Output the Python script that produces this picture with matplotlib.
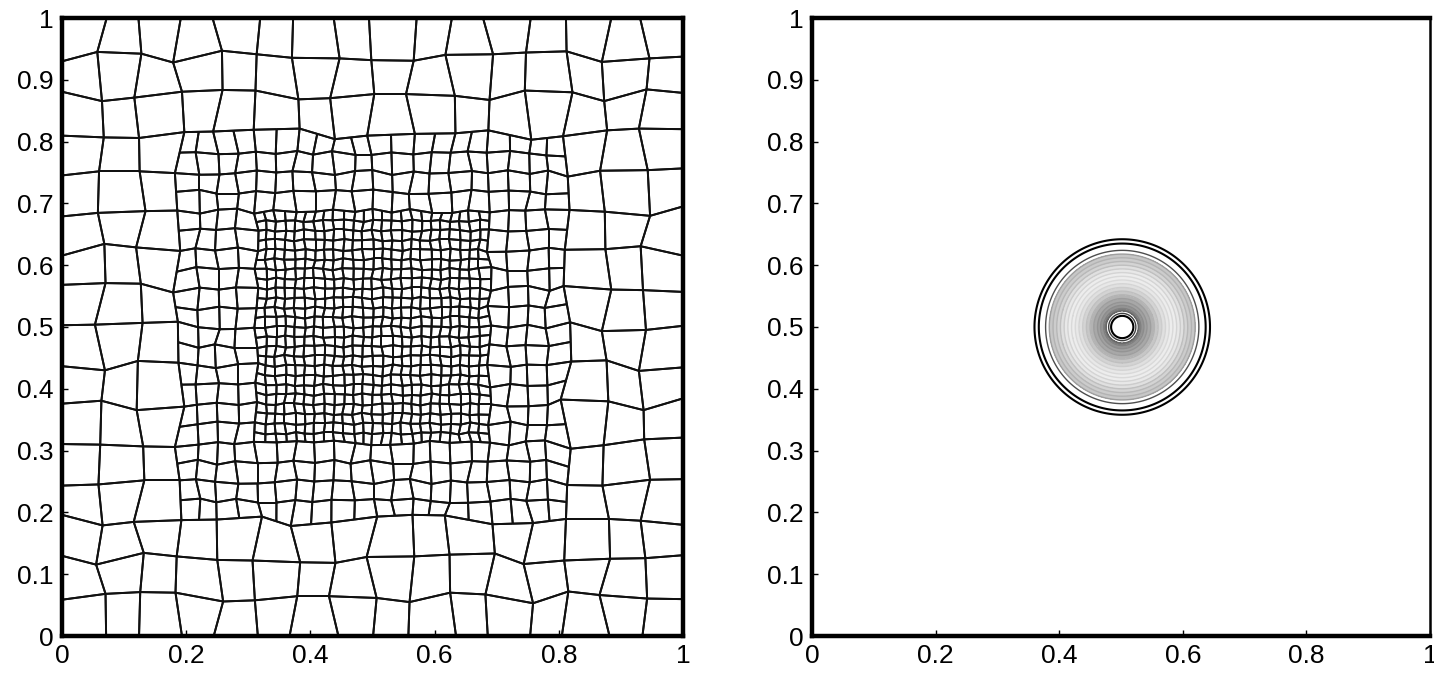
import numpy as np
import matplotlib
matplotlib.use("Agg")
import matplotlib.pyplot as plt
from matplotlib.collections import LineCollection

# ---------------- data ----------------
# mesh: finest lattice is 1/64; coarse = 4 lattice steps, medium = 2, fine = 1
N_FINE = 64
MEDIUM_ZONE = [12, 52]      # lattice indices (0.1875 .. 0.8125)
FINE_ZONE = [20, 44]        # lattice indices (0.3125 .. 0.6875)
AMP_COARSE = 0.0095
AMP_MEDIUM = 0.004
AMP_FINE = 0.002
# hand-typed node wiggles (read as typical distortion of the mesh)
JIT_X = [0.6, -0.9, 0.2, 0.8, -0.4, -0.7, 1.0, -0.1, 0.5, -1.0, 0.3, 0.9, -0.6, 0.0,
         -0.3, 0.7, -0.8, 0.4, -0.2, 1.0, -0.5, 0.1, 0.8, -0.9, 0.3, -0.6, 0.6, -0.1, 0.9]
JIT_Y = [-0.7, 0.4, 0.9, -0.3, 0.1, -1.0, 0.6, 0.8, -0.5, 0.2, -0.8, 0.5, 1.0, -0.2,
         -0.6, 0.3, 0.7, -0.9, 0.0, 0.6, -0.4, 0.9, -0.7, 0.2, -0.1, 0.8, -1.0, 0.4, -0.3]

# contour rings of the right panel
RING_CENTER = (0.502, 0.5)
RING_R = [0.142, 0.135, 0.124, 0.118, 0.112, 0.106, 0.100, 0.094, 0.088, 0.082, 0.076,
          0.070, 0.064, 0.058, 0.052, 0.046, 0.040, 0.035, 0.030, 0.026, 0.022, 0.018]
RING_GRAY = [0.0, 0.0, 0.3, 0.62, 0.7, 0.72, 0.75, 0.8, 0.83, 0.85, 0.85,
             0.83, 0.8, 0.75, 0.7, 0.62, 0.58, 0.55, 0.5, 0.4, 0.25, 0.0]

X_TICKS = [0, 0.2, 0.4, 0.6, 0.8, 1]
X_LABELS = ["0", "0.2", "0.4", "0.6", "0.8", "1"]
Y_TICKS = [0, 0.1, 0.2, 0.3, 0.4, 0.5, 0.6, 0.7, 0.8, 0.9, 1]
Y_LABELS = ["0", "0.1", "0.2", "0.3", "0.4", "0.5", "0.6", "0.7", "0.8", "0.9", "1"]

# ---------------- mesh construction ----------------
M0, M1 = MEDIUM_ZONE
F0, F1 = FINE_ZONE
n = N_FINE
P = np.full((n + 1, n + 1, 2), np.nan)


def exists(i, j):
    if i % 4 == 0 and j % 4 == 0:
        return True
    if i % 2 == 0 and j % 2 == 0 and M0 <= i <= M1 and M0 <= j <= M1:
        return True
    if F0 <= i <= F1 and F0 <= j <= F1:
        return True
    return False


def amp(i, j):
    if F0 < i < F1 and F0 < j < F1:
        return AMP_FINE
    if (F0 <= i <= F1 and F0 <= j <= F1) or (M0 < i < M1 and M0 < j < M1):
        return AMP_MEDIUM
    return AMP_COARSE


def hanging(i, j):
    onM = (M0 <= i <= M1 and M0 <= j <= M1) and (i in (M0, M1) or j in (M0, M1))
    if onM and not (i % 4 == 0 and j % 4 == 0):
        return "M"
    onF = (F0 <= i <= F1 and F0 <= j <= F1) and (i in (F0, F1) or j in (F0, F1))
    if onF and not (i % 2 == 0 and j % 2 == 0):
        return "F"
    return None


L = len(JIT_X)
for i in range(n + 1):
    for j in range(n + 1):
        if not exists(i, j) or hanging(i, j):
            continue
        a = amp(i, j)
        dx = a * JIT_X[(7 * i + 13 * j) % L]
        dy = a * JIT_Y[(11 * i + 5 * j) % L]
        if i in (0, n):
            dx = 0.0
        if j in (0, n):
            dy = 0.0
        P[i, j] = [i / n + dx, j / n + dy]

for i in range(n + 1):
    for j in range(n + 1):
        if not exists(i, j):
            continue
        h = hanging(i, j)
        if h is None:
            continue
        s = 2 if h == "M" else 1
        if (h == "M" and i in (M0, M1)) or (h == "F" and i in (F0, F1)):
            P[i, j] = 0.5 * (P[i, j - s] + P[i, j + s])
        else:
            P[i, j] = 0.5 * (P[i - s, j] + P[i + s, j])

segs = []


def add_cell(i, j, s):
    a, b, c, d = P[i, j], P[i + s, j], P[i + s, j + s], P[i, j + s]
    segs.extend([[a, b], [b, c], [c, d], [d, a]])


for I in range(0, n, 4):
    for J in range(0, n, 4):
        if M0 <= I and I + 4 <= M1 and M0 <= J and J + 4 <= M1:
            continue
        add_cell(I, J, 4)
for I in range(M0, M1, 2):
    for J in range(M0, M1, 2):
        if F0 <= I and I + 2 <= F1 and F0 <= J and J + 2 <= F1:
            continue
        add_cell(I, J, 2)
for I in range(F0, F1):
    for J in range(F0, F1):
        add_cell(I, J, 1)

# ---------------- figure ----------------
plt.rcParams["font.family"] = ["Liberation Sans", "DejaVu Sans"]
fig = plt.figure(figsize=(14.34, 6.78), dpi=100)
axL = fig.add_axes([62 / 1434, 42 / 678, 621 / 1434, 618 / 678])
axR = fig.add_axes([812 / 1434, 42 / 678, 618 / 1434, 618 / 678])

axL.add_collection(LineCollection(segs, colors="#111111", linewidths=1.4))

# rings
g = np.linspace(0.3, 0.7, 801)
X, Y = np.meshgrid(g, g)
R = np.hypot(X - RING_CENTER[0], Y - RING_CENTER[1])
shade_levels = sorted(RING_R[3:-2])
shade_cols = [str(min(1.0, RING_GRAY[RING_R.index(r)] + 0.08)) for r in shade_levels][:-1]
axR.contourf(X, Y, R, levels=shade_levels, colors=shade_cols)
order = np.argsort(RING_R)
lv = [RING_R[k] for k in order]
cols = [str(RING_GRAY[k]) for k in order]
lws = [1.5 if RING_GRAY[k] < 0.2 else 1.0 for k in order]
axR.contour(X, Y, R, levels=lv, colors=cols, linewidths=lws)

for ax in (axL, axR):
    ax.set_xlim(0, 1)
    ax.set_ylim(0, 1)
    ax.set_xticks(X_TICKS)
    ax.set_xticklabels(X_LABELS)
    ax.set_yticks(Y_TICKS)
    ax.set_yticklabels(Y_LABELS)
    ax.tick_params(direction="in", length=4, width=1, labelsize=19, pad=6,
                   colors="black")
    for sp in ax.spines.values():
        sp.set_linewidth(3.2)
        sp.set_color("black")
axR.spines["right"].set_linewidth(1.8)

fig.savefig("out.png", dpi=100, facecolor="white")
